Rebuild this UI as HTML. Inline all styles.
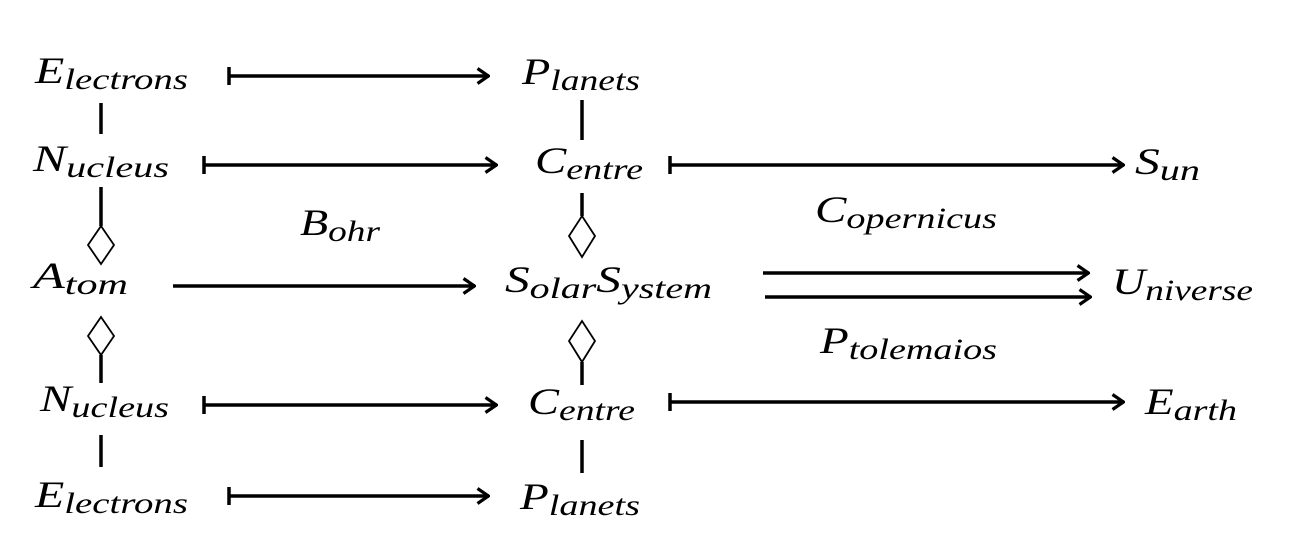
<!DOCTYPE html>
<html><head><style>
html,body{margin:0;padding:0;background:#fff;width:1292px;height:558px;overflow:hidden}
text{font-family:"Liberation Serif",serif;font-style:italic;fill:#000}
.m{font-size:37px}
.s{font-size:30px}
</style></head><body>
<svg width="1292" height="558" viewBox="0 0 1292 558" xmlns="http://www.w3.org/2000/svg">
<defs>
<marker id="a" viewBox="0 0 14 18" refX="13" refY="9" markerWidth="14" markerHeight="18" markerUnits="userSpaceOnUse" orient="auto">
<path d="M1.5,1.5 L12.5,9 L1.5,16.5" fill="none" stroke="#000" stroke-width="3.2"/>
</marker>
</defs>
<g stroke="#000" stroke-width="3.5" fill="none">
<line x1="229" y1="76" x2="489" y2="76" marker-end="url(#a)"/><line x1="229" y1="67" x2="229" y2="85"/>
<line x1="204" y1="165" x2="497" y2="165" marker-end="url(#a)"/><line x1="204" y1="156" x2="204" y2="174"/>
<line x1="670" y1="165" x2="1124" y2="165" marker-end="url(#a)"/><line x1="670" y1="156" x2="670" y2="174"/>
<line x1="173" y1="286" x2="475" y2="286" marker-end="url(#a)"/>
<line x1="763" y1="273" x2="1089" y2="273" marker-end="url(#a)"/>
<line x1="765" y1="297" x2="1091" y2="297" marker-end="url(#a)"/>
<line x1="204" y1="405" x2="497" y2="405" marker-end="url(#a)"/><line x1="204" y1="396" x2="204" y2="414"/>
<line x1="670" y1="402" x2="1124" y2="402" marker-end="url(#a)"/><line x1="670" y1="393" x2="670" y2="411"/>
<line x1="229" y1="496" x2="489" y2="496" marker-end="url(#a)"/><line x1="229" y1="487" x2="229" y2="505"/>
<line x1="101" y1="103" x2="101" y2="134"/>
<line x1="582" y1="100" x2="582" y2="140"/>
<line x1="101" y1="187" x2="101" y2="226"/>
<line x1="582" y1="193" x2="582" y2="216"/>
<line x1="101" y1="355" x2="101" y2="383"/>
<line x1="582" y1="362" x2="582" y2="385"/>
<line x1="101" y1="435" x2="101" y2="467"/>
<line x1="582" y1="440" x2="582" y2="473"/>
</g>
<g stroke="#000" stroke-width="1.8" fill="#fff">
<polygon points="101,226 114,245 101,264 88,245"/>
<polygon points="582,216 595,236 582,257 569,236"/>
<polygon points="101,317 114,336 101,355 88,336"/>
<polygon points="582,321 595,341 582,362 569,341"/>
</g>
<text x="35" y="83" class="m" textLength="153" lengthAdjust="spacingAndGlyphs">E<tspan class="s" dy="6">lectrons</tspan></text>
<text x="522" y="84" class="m" textLength="118" lengthAdjust="spacingAndGlyphs">P<tspan class="s" dy="6">lanets</tspan></text>
<text x="33" y="171" class="m" textLength="136" lengthAdjust="spacingAndGlyphs">N<tspan class="s" dy="6">ucleus</tspan></text>
<text x="535" y="173" class="m" textLength="108" lengthAdjust="spacingAndGlyphs">C<tspan class="s" dy="6">entre</tspan></text>
<text x="1135" y="174" class="m" textLength="65" lengthAdjust="spacingAndGlyphs">S<tspan class="s" dy="6">un</tspan></text>
<text x="300" y="235" class="m" textLength="80" lengthAdjust="spacingAndGlyphs">B<tspan class="s" dy="6">ohr</tspan></text>
<text x="815" y="222" class="m" textLength="182" lengthAdjust="spacingAndGlyphs">C<tspan class="s" dy="6">opernicus</tspan></text>
<text x="33" y="288" class="m" textLength="95" lengthAdjust="spacingAndGlyphs">A<tspan class="s" dy="6">tom</tspan></text>
<text x="505" y="292" class="m" textLength="207" lengthAdjust="spacingAndGlyphs">S<tspan class="s" dy="6">olar</tspan><tspan dy="-6">S</tspan><tspan class="s" dy="6">ystem</tspan></text>
<text x="1112" y="294" class="m" textLength="141" lengthAdjust="spacingAndGlyphs">U<tspan class="s" dy="6">niverse</tspan></text>
<text x="820" y="353" class="m" textLength="177" lengthAdjust="spacingAndGlyphs">P<tspan class="s" dy="6">tolemaios</tspan></text>
<text x="40" y="411" class="m" textLength="129" lengthAdjust="spacingAndGlyphs">N<tspan class="s" dy="6">ucleus</tspan></text>
<text x="528" y="414" class="m" textLength="107" lengthAdjust="spacingAndGlyphs">C<tspan class="s" dy="6">entre</tspan></text>
<text x="1145" y="414" class="m" textLength="92" lengthAdjust="spacingAndGlyphs">E<tspan class="s" dy="6">arth</tspan></text>
<text x="35" y="507" class="m" textLength="153" lengthAdjust="spacingAndGlyphs">E<tspan class="s" dy="6">lectrons</tspan></text>
<text x="520" y="509" class="m" textLength="120" lengthAdjust="spacingAndGlyphs">P<tspan class="s" dy="6">lanets</tspan></text>
</svg>
</body></html>
